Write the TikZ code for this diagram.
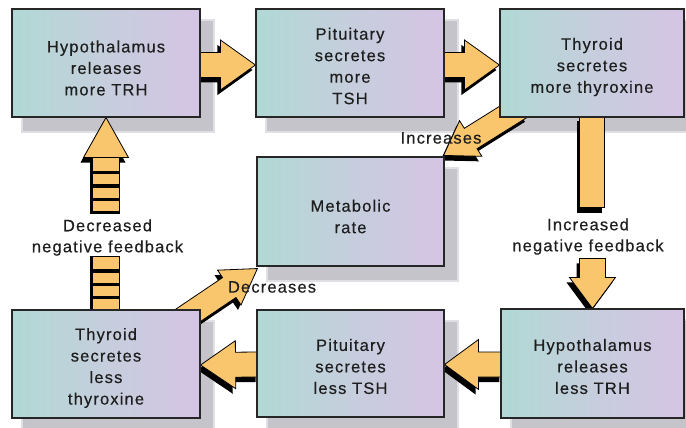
\documentclass[tikz,border=0pt]{standalone}
\usepackage{fontspec}
\setmainfont{Liberation Sans}[LetterSpace=7,FakeBold=0.4]
\usetikzlibrary{calc}
\pgfdeclarelayer{shadowlayer}
\pgfdeclarelayer{arrowlayer}
\pgfsetlayers{shadowlayer,arrowlayer,main}
\definecolor{boxL}{RGB}{176,217,213}
\definecolor{boxM}{RGB}{198,206,221}
\definecolor{boxR}{RGB}{213,196,228}
\definecolor{arroworange}{RGB}{249,198,110}
\definecolor{shadowgray}{RGB}{196,196,202}
\definecolor{shadowsoft}{RGB}{224,224,228}
\definecolor{inktext}{RGB}{30,30,30}
\tikzset{
  box/.style={draw=black!85, line width=1.1pt, left color=boxL, right color=boxR, middle color=boxM,
    minimum width=#1, minimum height=108pt, inner sep=0pt},
  boxtext/.style={font=\fontsize{16.5}{21.5}\selectfont, align=center, text=inktext, inner sep=0pt},
  labeltext/.style={font=\fontsize{16.5}{21}\selectfont, align=center, text=inktext, inner sep=0pt},
  arrowbody/.style={fill=arroworange, draw=black, line width=0.8pt, line join=miter},
  arrowshadow/.style={fill=black, transform canvas={shift={(-3pt,-5pt)}}},
  barshadow/.style={fill=black},
  barfill/.style={fill=arroworange},
}
% #1 tail, #2 tip, #3 half shaft width, #4 half head width, #5 head length
\newcommand\fatarrow[5]{%
  \coordinate (fab) at ($(#2)!#5!(#1)$);
  \fill[arrowshadow] ($(#1)!#3!90:(#2)$) -- ($(fab)!#3!90:(#2)$) -- ($(fab)!#4!90:(#2)$) -- (#2)
     -- ($(fab)!#4!-90:(#2)$) -- ($(fab)!#3!-90:(#2)$) -- ($(#1)!#3!-90:(#2)$) -- cycle;
  \draw[arrowbody] ($(#1)!#3!90:(#2)$) -- ($(fab)!#3!90:(#2)$) -- ($(fab)!#4!90:(#2)$) -- (#2)
     -- ($(fab)!#4!-90:(#2)$) -- ($(fab)!#3!-90:(#2)$) -- ($(#1)!#3!-90:(#2)$) -- cycle;
}
\newcommand\boxshadow[1]{%
  \fill[shadowsoft] ($(#1.north west)+(10,-11)$) rectangle ($(#1.south east)+(14,-15)$);
  \fill[shadowgray] ($(#1.north west)+(12,-13)$) rectangle ($(#1.south east)+(12,-13)$);
}
\begin{document}
\begin{tikzpicture}[x=1pt,y=1pt]
\useasboundingbox (0,0) rectangle (686,-428);

% boxes
\node[box=188pt] (b1) at (106,-63) {};
\node[box=188pt] (b2) at (350,-63) {};
\node[box=184pt] (b3) at (592,-63) {};
\node[box=187pt, minimum height=109pt] (met) at (350.5,-211.5) {};
\node[box=188pt] (b4) at (106,-364) {};
\node[box=187pt, minimum height=107pt] (b5) at (350.5,-363.5) {};
\node[box=183pt, minimum height=109pt] (b6) at (592.5,-363.5) {};

\node[boxtext] (t1) at ([yshift=-5pt]b1.center) {Hypothalamus\\releases\\more TRH};
\node[boxtext] (t2) at ([yshift=-3pt]b2.center) {Pituitary\\secretes\\more\\TSH};
\node[boxtext] (t3) at ([yshift=-4pt]b3.center) {Thyroid\\secretes\\more thyroxine};
\node[boxtext] (tm) at ([yshift=-5pt]met.center) {Metabolic\\rate};
\node[boxtext] (t4) at ([yshift=-4pt]b4.center) {Thyroid\\secretes\\less\\thyroxine};
\node[boxtext] (t5) at ([yshift=-3pt]b5.center) {Pituitary\\secretes\\less TSH};
\node[boxtext] (t6) at ([yshift=-3pt]b6.center) {Hypothalamus\\releases\\less TRH};

% labels
\node[labeltext] (linc) at (441,-138) {Increases};
\node[labeltext] (ldec) at (272,-287) {Decreases};
\node[labeltext] (lincfb) at (588,-236.5) {Increased\\negative feedback};
\node[labeltext] (ldecfb) at (107.5,-237.5) {Decreased\\negative feedback};

% background and shadows
\begin{pgfonlayer}{shadowlayer}
\fill[white] (0,0) rectangle (686,-428);
\boxshadow{b1}\boxshadow{b2}\boxshadow{b3}\boxshadow{met}\boxshadow{b4}\boxshadow{b5}\boxshadow{b6}
\end{pgfonlayer}

% arrows
\begin{pgfonlayer}{arrowlayer}
\coordinate (t12) at ([xshift=-2pt,yshift=-2pt]b1.east);
\coordinate (p12) at ([yshift=-2pt]b2.west);
\fatarrow{t12}{p12}{12.5pt}{25pt}{35pt}
\coordinate (t23) at ([xshift=-2pt,yshift=-2pt]b2.east);
\coordinate (p23) at ([yshift=-2pt]b3.west);
\fatarrow{t23}{p23}{12.5pt}{25pt}{35pt}
\coordinate (t65) at ([xshift=2pt,yshift=-1pt]b6.west);
\coordinate (p65) at ([yshift=-1pt]b5.east);
\fatarrow{t65}{p65}{12.5pt}{25pt}{34pt}
\coordinate (t54) at ([xshift=2pt,yshift=-1pt]b5.west);
\coordinate (p54) at ([yshift=-1pt]b4.east);
\fatarrow{t54}{p54}{12.5pt}{24pt}{35pt}

% Increases
\coordinate (pinc) at ([shift={(-1pt,1pt)}]met.north east);
\coordinate (tinc) at ($(pinc)+(32:92pt)$);
\fatarrow{tinc}{pinc}{12pt}{21pt}{32pt}
% Decreases
\coordinate (pdec) at ([shift={(1pt,-2pt)}]met.south west);
\coordinate (tdec) at ($(pdec)+(214:92pt)$);
\fatarrow{tdec}{pdec}{12pt}{21pt}{34pt}

% right vertical arrow (increased negative feedback)
\fill[arrowshadow] ($(b3.south)+(-12.5,2)$) rectangle ($(b3.south)+(12.5,-90)$);
\draw[arrowbody] ($(b3.south)+(-12.5,2)$) rectangle ($(b3.south)+(12.5,-90)$);
\coordinate (tfb) at ($(b6.north)+(0,50)$);
\fatarrow{tfb}{b6.north}{13pt}{23pt}{31pt}

% left vertical arrow (decreased negative feedback)
\coordinate (tup) at ($(b1.south)+(0,-41)$);
\fatarrow{tup}{b1.south}{13pt}{22.5pt}{40pt}
\fill[barshadow] ($(b1.south)+(-16,-39)$) rectangle ($(b1.south)+(14,-96)$);
\foreach \ya/\yb in {40/53, 56.5/66.5, 70/80, 83.5/93}{
  \fill[barfill] ($(b1.south)+(-13,-\ya)$) rectangle ($(b1.south)+(13,-\yb)$);
}
\fill[barshadow] ($(b4.north)+(-16,53.5)$) rectangle ($(b4.north)+(14,0)$);
\foreach \ya/\yb in {52.5/40, 36.7/26.7, 23.3/13.3, 10/-2}{
  \fill[barfill] ($(b4.north)+(-13,\ya)$) rectangle ($(b4.north)+(13,\yb)$);
}
\end{pgfonlayer}
\end{tikzpicture}
\end{document}
